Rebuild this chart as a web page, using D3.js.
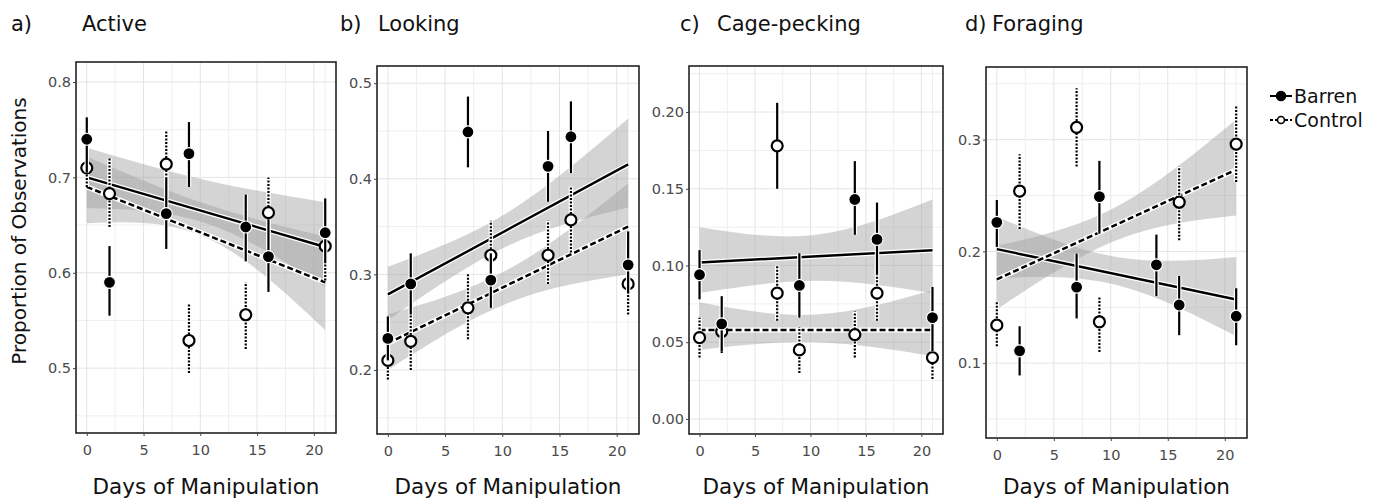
<!doctype html>
<html>
<head>
<meta charset="utf-8">
<title>Behaviour over days of manipulation</title>
<style>
    body { margin: 0; background: #fff; }
    text { font-family: "DejaVu Sans", Verdana, sans-serif; }
    .grid line { stroke: #e4e4e4; stroke-width: 1px; }
    .grid .minor { stroke: #efefef; }
    .tick-label { fill: #4a4a4a; font-size: 14.5px; }
    .title { fill: #111; font-size: 21px; }
    .legend-text { fill: #111; font-size: 19px; }
    .xtitle { fill: #111; font-size: 21.5px; }
    .ytitle { fill: #111; font-size: 20px; }
</style>
</head>
<body>
<svg id="plot" width="1373" height="498"></svg>
<script src="https://d3js.org/d3.v7.min.js"></script>
<script>
// ---- data ----
const days = [0, 2, 7, 9, 14, 16, 21];
const panelTags = ["a)", "b)", "c)", "d)"];
const panelTitles = ["Active", "Looking", "Cage-pecking", "Foraging"];
const xTicks = [0, 5, 10, 15, 20];
const yTicks = [
    [0.5, 0.6, 0.7, 0.8],
    [0.2, 0.3, 0.4, 0.5],
    [0.00, 0.05, 0.10, 0.15, 0.20],
    [0.1, 0.2, 0.3]
];
const yTickFormat = [".1f", ".1f", ".2f", ".1f"];

// Barren (filled) means and 95% intervals, one row per panel, by day
const barrenMean = [
    [0.740, 0.590, 0.662, 0.725, 0.648, 0.617, 0.642],
    [0.233, 0.290, 0.449, 0.294, 0.413, 0.444, 0.310],
    [0.094, 0.062, 0.178, 0.087, 0.143, 0.117, 0.066],
    [0.226, 0.111, 0.168, 0.249, 0.188, 0.152, 0.142]
];
const barrenLo = [
    [0.705, 0.555, 0.625, 0.690, 0.612, 0.580, 0.610],
    [0.210, 0.258, 0.412, 0.265, 0.376, 0.406, 0.280],
    [0.078, 0.044, 0.150, 0.066, 0.120, 0.094, 0.044],
    [0.204, 0.089, 0.140, 0.216, 0.160, 0.125, 0.116]
];
const barrenHi = [
    [0.763, 0.628, 0.700, 0.758, 0.682, 0.656, 0.678],
    [0.256, 0.322, 0.486, 0.322, 0.450, 0.481, 0.345],
    [0.110, 0.080, 0.206, 0.108, 0.168, 0.141, 0.086],
    [0.246, 0.133, 0.198, 0.281, 0.215, 0.178, 0.167]
];
// panel c day 7 point is drawn hollow in the figure
const hollowBarren = [[], [], [7], []];

const controlMean = [
    [0.710, 0.683, 0.714, 0.529, 0.556, 0.663, 0.628],
    [0.210, 0.230, 0.265, 0.320, 0.320, 0.357, 0.290],
    [0.053, 0.057, 0.082, 0.045, 0.055, 0.082, 0.040],
    [0.134, 0.254, 0.311, 0.137, null, 0.244, 0.296]
];
const controlLo = [
    [0.690, 0.648, 0.680, 0.495, 0.520, 0.625, 0.592],
    [0.190, 0.200, 0.232, 0.286, 0.290, 0.323, 0.258],
    [0.040, 0.043, 0.064, 0.030, 0.040, 0.064, 0.026],
    [0.115, 0.220, 0.276, 0.110, null, 0.210, 0.262]
];
const controlHi = [
    [0.730, 0.720, 0.748, 0.567, 0.590, 0.700, 0.662],
    [0.228, 0.262, 0.300, 0.356, 0.356, 0.392, 0.330],
    [0.066, 0.068, 0.100, 0.060, 0.070, 0.102, 0.054],
    [0.155, 0.287, 0.346, 0.160, null, 0.276, 0.330]
];

// fitted lines (day 0 and day 21)
const fitDays = [0, 21];
const barrenFit = [[0.700, 0.627], [0.279, 0.415], [0.102, 0.110], [0.202, 0.157]];
const controlFit = [[0.690, 0.590], [0.228, 0.350], [0.058, 0.058], [0.175, 0.273]];

// confidence ribbons read at days 0, 10.5, 21
const ribbonDays = [0, 10.5, 21];
const barrenRibLo = [[0.668, 0.652, 0.585], [0.252, 0.330, 0.370], [0.082, 0.090, 0.082], [0.176, 0.170, 0.124]];
const barrenRibHi = [[0.731, 0.697, 0.674], [0.308, 0.365, 0.463], [0.125, 0.120, 0.143], [0.231, 0.195, 0.195]];
const controlRibLo = [[0.652, 0.637, 0.540], [0.200, 0.270, 0.300], [0.045, 0.050, 0.041], [0.148, 0.210, 0.232]];
const controlRibHi = [[0.722, 0.672, 0.638], [0.258, 0.305, 0.395], [0.076, 0.068, 0.084], [0.205, 0.240, 0.318]];

// ---- layout ----
const boxes = [
    {x0: 76, x1: 336, y0: 62, y1: 433, ymin: 0.432, ymax: 0.821, tagX: 11, titleX: 82},
    {x0: 377, x1: 639, y0: 66, y1: 434, ymin: 0.133, ymax: 0.518, tagX: 340, titleX: 378},
    {x0: 689, x1: 943, y0: 66, y1: 434, ymin: -0.0098, ymax: 0.230, tagX: 680, titleX: 717},
    {x0: 986, x1: 1247, y0: 67, y1: 438, ymin: 0.033, ymax: 0.365, tagX: 965, titleX: 992}
];
const xDomain = [-0.95, 21.95];

let svg = d3.select("#plot");

panelTitles.forEach(function(title, p) {
    const b = boxes[p];
    let x = d3.scaleLinear().domain(xDomain).range([b.x0, b.x1]);
    let y = d3.scaleLinear().domain([b.ymin, b.ymax]).range([b.y1, b.y0]);
    let g = svg.append("g");

    // titles
    g.append("text").attr("class", "title").attr("x", b.tagX).attr("y", 31).text(panelTags[p]);
    g.append("text").attr("class", "title").attr("x", b.titleX).attr("y", 31).text(title);

    // grid: major at ticks, minor halfway
    const ystep = yTicks[p][1] - yTicks[p][0];
    let grid = g.append("g").attr("class", "grid");
    let yMinor = [];
    for (let v = yTicks[p][0] - ystep / 2; v < b.ymax; v += ystep) {
        if (v > b.ymin) yMinor.push(v);
    }
    let xMinor = [-2.5, 2.5, 7.5, 12.5, 17.5].filter(v => v > xDomain[0]);
    grid.selectAll(".ymaj").data(yTicks[p]).enter().append("line")
        .attr("x1", b.x0).attr("x2", b.x1).attr("y1", d => y(d)).attr("y2", d => y(d));
    grid.selectAll(".ymin").data(yMinor).enter().append("line").attr("class", "minor")
        .attr("x1", b.x0).attr("x2", b.x1).attr("y1", d => y(d)).attr("y2", d => y(d));
    grid.selectAll(".xmaj").data(xTicks).enter().append("line")
        .attr("y1", b.y0).attr("y2", b.y1).attr("x1", d => x(d)).attr("x2", d => x(d));
    grid.selectAll(".xmin").data(xMinor.concat([21])).enter().append("line").attr("class", "minor")
        .attr("y1", b.y0).attr("y2", b.y1).attr("x1", d => x(d)).attr("x2", d => x(d));

    // ribbons
    let area = d3.area().curve(d3.curveNatural)
        .x(d => x(d[0])).y0(d => y(d[1])).y1(d => y(d[2]));
    const ribs = [
        ribbonDays.map((d, i) => [d, barrenRibLo[p][i], barrenRibHi[p][i]]),
        ribbonDays.map((d, i) => [d, controlRibLo[p][i], controlRibHi[p][i]])
    ];
    ribs.forEach(function(r) {
        g.append("path").datum(r).attr("d", area)
            .attr("fill", "#a0a0a0").attr("fill-opacity", 0.45).attr("stroke", "none");
    });

    // fitted lines with white halo
    let line = d3.line().x(d => x(d[0])).y(d => y(d[1]));
    const fits = [
        {pts: fitDays.map((d, i) => [d, barrenFit[p][i]]), dash: null},
        {pts: fitDays.map((d, i) => [d, controlFit[p][i]]), dash: "6,3"}
    ];
    fits.forEach(function(f) {
        g.append("path").datum(f.pts).attr("d", line)
            .attr("stroke", "#fff").attr("stroke-width", 5).attr("fill", "none");
        g.append("path").datum(f.pts).attr("d", line)
            .attr("stroke", "#000").attr("stroke-width", 2.5).attr("fill", "none")
            .attr("stroke-dasharray", f.dash);
    });

    // error bars and points
    function drawSeries(mean, lo, hi, dotted, hollowDays) {
        days.forEach(function(d, i) {
            if (mean[p][i] == null) return;
            let bar = g.append("g");
            bar.append("line")
                .attr("x1", x(d)).attr("x2", x(d)).attr("y1", y(lo[p][i])).attr("y2", y(hi[p][i]))
                .attr("stroke", "#fff").attr("stroke-width", 4.5);
            bar.append("line")
                .attr("x1", x(d)).attr("x2", x(d)).attr("y1", y(lo[p][i])).attr("y2", y(hi[p][i]))
                .attr("stroke", "#000").attr("stroke-width", 2.2)
                .attr("stroke-dasharray", dotted ? "2,1.5" : null);
            const open = dotted || hollowDays.indexOf(d) >= 0;
            bar.append("circle")
                .attr("cx", x(d)).attr("cy", y(mean[p][i])).attr("r", open ? 5.5 : 6)
                .attr("fill", open ? "#fff" : "#000")
                .attr("stroke", open ? "#000" : "#fff")
                .attr("stroke-width", open ? 2.2 : 1.2);
        });
    }
    drawSeries(controlMean, controlLo, controlHi, true, []);
    drawSeries(barrenMean, barrenLo, barrenHi, false, hollowBarren[p]);

    // frame
    g.append("rect").attr("x", b.x0).attr("y", b.y0)
        .attr("width", b.x1 - b.x0).attr("height", b.y1 - b.y0)
        .attr("fill", "none").attr("stroke", "#222").attr("stroke-width", 1.6);

    // axes
    let yAxis = g.append("g").attr("transform", "translate(" + b.x0 + ",0)")
        .call(d3.axisLeft(y).tickValues(yTicks[p]).tickFormat(d3.format(yTickFormat[p])).tickSize(3).tickPadding(2));
    yAxis.select(".domain").remove();
    yAxis.selectAll("text").attr("class", "tick-label").attr("font-size", null).attr("font-family", null);
    yAxis.selectAll("line").attr("stroke", "#444");

    let xAxis = g.append("g").attr("transform", "translate(0," + b.y1 + ")")
        .call(d3.axisBottom(x).tickValues(xTicks).tickFormat(d3.format("d")).tickSize(3).tickPadding(9));
    xAxis.select(".domain").remove();
    xAxis.selectAll("text").attr("class", "tick-label").attr("font-size", null).attr("font-family", null);
    xAxis.selectAll("line").attr("stroke", "#444");

    g.append("text").attr("class", "xtitle")
        .attr("x", (b.x0 + b.x1) / 2).attr("y", 494)
        .attr("text-anchor", "middle").text("Days of Manipulation");
});

// y-axis title
svg.append("text").attr("class", "ytitle")
    .attr("transform", "translate(26,231) rotate(-90)")
    .attr("text-anchor", "middle").text("Proportion of Observations");

// legend
const legendNames = ["Barren", "Control"];
let legend = svg.append("g").selectAll("g").data(legendNames).enter().append("g")
    .attr("transform", (d, i) => "translate(1270," + (96 + i * 24) + ")");
legend.append("line").attr("x1", 0).attr("x2", 22).attr("y1", 0).attr("y2", 0)
    .attr("stroke", "#000").attr("stroke-width", 2)
    .attr("stroke-dasharray", (d, i) => i ? "3,2" : null);
legend.append("circle").attr("cx", 11).attr("cy", 0).attr("r", (d, i) => i ? 3.5 : 4.5)
    .attr("fill", (d, i) => i ? "#fff" : "#000").attr("stroke", "#000").attr("stroke-width", 1.6);
legend.append("text").attr("x", 24).attr("y", 7).attr("class", "legend-text").text(d => d);
</script>
</body>
</html>
